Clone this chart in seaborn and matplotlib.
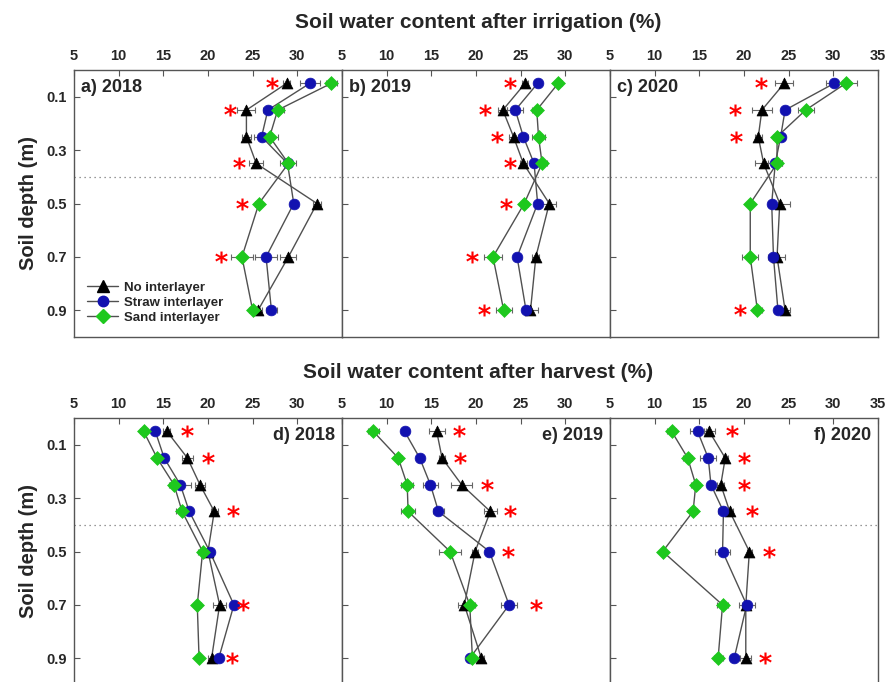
import numpy as np
import pandas as pd
import matplotlib
matplotlib.use("Agg")
import matplotlib.pyplot as plt
import seaborn as sns
from matplotlib.lines import Line2D

# depths (m) and treatments
depth = [0.05, 0.15, 0.25, 0.35, 0.5, 0.7, 0.9]
treatments = ["No interlayer", "Straw interlayer", "Sand interlayer"]

# soil water content after irrigation (%)
irr_2018 = {"No interlayer": [28.8, 24.3, 24.3, 25.4, 32.2, 29.0, 25.6],
            "Straw interlayer": [31.4, 26.7, 26.0, 28.9, 29.6, 26.5, 27.1],
            "Sand interlayer": [33.8, 27.8, 26.9, 29.0, 25.7, 23.8, 25.0]}
irr_2019 = {"No interlayer": [25.5, 23.0, 24.2, 25.3, 28.2, 26.7, 26.1],
            "Straw interlayer": [26.9, 24.4, 25.3, 26.5, 26.9, 24.6, 25.6],
            "Sand interlayer": [29.2, 26.8, 27.0, 27.4, 25.4, 21.9, 23.1]}
irr_2020 = {"No interlayer": [24.5, 22.0, 21.6, 22.2, 24.0, 23.7, 24.6],
            "Straw interlayer": [30.1, 24.6, 24.1, 23.5, 23.1, 23.3, 23.8],
            "Sand interlayer": [31.4, 26.9, 23.7, 23.7, 20.7, 20.7, 21.5]}

# soil water content after harvest (%)
har_2018 = {"No interlayer": [15.4, 17.7, 19.1, 20.7, 20.0, 21.3, 20.4],
            "Straw interlayer": [14.1, 15.1, 16.9, 17.9, 20.2, 22.9, 21.2],
            "Sand interlayer": [12.8, 14.3, 16.2, 17.1, 19.4, 18.8, 19.0]}
har_2019 = {"No interlayer": [15.6, 16.2, 18.4, 21.6, 19.9, 18.7, 20.6],
            "Straw interlayer": [12.0, 13.7, 14.9, 15.8, 21.5, 23.7, 19.3],
            "Sand interlayer": [8.5, 11.3, 12.3, 12.4, 17.1, 19.3, 19.6]}
har_2020 = {"No interlayer": [16.1, 17.9, 17.4, 18.4, 20.6, 20.2, 20.2],
            "Straw interlayer": [14.8, 16.0, 16.3, 17.7, 17.6, 20.3, 18.9],
            "Sand interlayer": [11.9, 13.7, 14.6, 14.3, 10.9, 17.6, 17.1]}

# standard errors
err_irr_2018 = {"No interlayer": [0.4, 1.0, 0.5, 0.8, 0.5, 0.9, 0.5],
                "Straw interlayer": [1.1, 0.5, 0.8, 0.5, 0.3, 1.2, 0.6],
                "Sand interlayer": [0.6, 0.7, 0.9, 0.9, 0.4, 1.2, 0.4]}
err_irr_2019 = {"No interlayer": [0.3, 0.5, 0.5, 0.4, 0.8, 0.4, 0.8],
                "Straw interlayer": [0.3, 0.9, 0.5, 0.5, 0.3, 0.3, 0.4],
                "Sand interlayer": [0.4, 0.5, 0.7, 0.5, 0.4, 1.0, 0.9]}
err_irr_2020 = {"No interlayer": [1.0, 1.1, 0.4, 1.0, 1.2, 0.9, 0.6],
                "Straw interlayer": [0.9, 0.5, 0.5, 0.8, 0.4, 0.6, 0.4],
                "Sand interlayer": [1.3, 0.9, 0.4, 0.5, 0.3, 0.9, 0.5]}
err_har_2018 = {"No interlayer": [0.4, 0.6, 0.6, 0.4, 0.3, 0.7, 0.4],
                "Straw interlayer": [0.3, 0.3, 1.2, 0.3, 0.3, 0.3, 0.5],
                "Sand interlayer": [0.4, 0.4, 0.6, 0.7, 0.5, 0.4, 0.3]}
err_har_2019 = {"No interlayer": [0.9, 0.3, 1.2, 0.7, 0.3, 0.7, 0.3],
                "Straw interlayer": [0.3, 0.3, 0.8, 0.6, 0.3, 0.9, 0.3],
                "Sand interlayer": [0.6, 0.4, 0.7, 0.8, 1.2, 0.6, 0.3]}
err_har_2020 = {"No interlayer": [0.6, 0.3, 0.4, 0.4, 0.3, 0.4, 0.6],
                "Straw interlayer": [0.9, 0.9, 0.4, 0.6, 0.8, 0.9, 0.5],
                "Sand interlayer": [0.5, 0.5, 0.5, 0.4, 0.3, 0.6, 0.5]}

# significance asterisks (x position per depth, nan = none)
nan = np.nan
star_irr_2018 = [27.2, 22.5, nan, 23.5, 23.8, 21.5, nan]
star_irr_2019 = [23.8, 21.0, 22.3, 23.8, 23.4, 19.5, 20.9]
star_irr_2020 = [21.9, 19.0, 19.1, nan, nan, nan, 19.6]
star_har_2018 = [17.7, 20.0, nan, 22.8, nan, 23.9, 22.7]
star_har_2019 = [18.1, 18.2, 21.2, 23.8, 23.6, 26.7, nan]
star_har_2020 = [18.7, 20.0, 20.0, 20.9, 22.8, nan, 22.3]

panels = [
    ("a) 2018", irr_2018, err_irr_2018, star_irr_2018),
    ("b) 2019", irr_2019, err_irr_2019, star_irr_2019),
    ("c) 2020", irr_2020, err_irr_2020, star_irr_2020),
    ("d) 2018", har_2018, err_har_2018, star_har_2018),
    ("e) 2019", har_2019, err_har_2019, star_har_2019),
    ("f) 2020", har_2020, err_har_2020, star_har_2020),
]

colors = {"No interlayer": "black", "Straw interlayer": "#1212b0", "Sand interlayer": "#1ec81e"}
markers = {"No interlayer": "^", "Straw interlayer": "o", "Sand interlayer": "D"}
sizes = {"No interlayer": 62, "Straw interlayer": 60, "Sand interlayer": 50}
legend_ms = {"No interlayer": 8, "Straw interlayer": 7.5, "Sand interlayer": 7}

sns.set_style("ticks")
plt.rcParams["font.family"] = ["Liberation Sans", "DejaVu Sans"]
plt.rcParams["font.weight"] = "bold"

W, H = 889, 682
fig = plt.figure(figsize=(W / 100, H / 100), dpi=100)

lefts = [74, 342, 610]
tops = [70, 418]
pw, ph = 268, 267

for i, (label, vals, errs, stars) in enumerate(panels):
    row, col = divmod(i, 3)
    ax = fig.add_axes([lefts[col] / W, 1 - (tops[row] + ph) / H, pw / W, ph / H])

    df = pd.DataFrame([(t, d, v) for t in treatments for d, v in zip(depth, vals[t])],
                      columns=["treatment", "depth", "swc"])

    ax.axhline(0.4, color="#777777", ls=(0, (1, 3)), lw=0.9, zorder=0)
    for t in treatments:
        ax.errorbar(vals[t], depth, xerr=errs[t], fmt="none", ecolor="#666666",
                    elinewidth=0.8, capsize=2.5, capthick=0.8, zorder=1)
    sns.lineplot(data=df, x="swc", y="depth", units="treatment", estimator=None,
                 orient="y", sort=True, color="#505050", lw=1, ax=ax, legend=False, zorder=2)
    for t in treatments:
        sub = df[df["treatment"] == t]
        sns.scatterplot(data=sub, x="swc", y="depth", marker=markers[t], color=colors[t],
                        s=sizes[t], edgecolor=colors[t], linewidth=0.5, ax=ax,
                        legend=False, zorder=3)
    sns.scatterplot(x=stars, y=depth, marker="$*$", color="red", s=80, linewidth=0,
                    ax=ax, legend=False, zorder=4)

    ax.set_xlim(5, 35)
    ax.set_ylim(1.0, 0.0)
    ax.xaxis.tick_top()
    ax.set_xticks([5, 10, 15, 20, 25, 30, 35])
    xl = ["5", "10", "15", "20", "25", "30", "35" if col == 2 else ""]
    ax.set_xticklabels(xl)
    ax.set_yticks([0.1, 0.3, 0.5, 0.7, 0.9])
    ax.set_yticklabels(["0.1", "0.3", "0.5", "0.7", "0.9"] if col == 0 else [])
    ax.tick_params(direction="in", length=4, width=0.8, color="#555555", labelsize=10.5,
                   top=True, bottom=False, left=True, right=False, pad=5)
    for lab in ax.get_xticklabels() + ax.get_yticklabels():
        lab.set_fontweight("bold")
    ax.set_xlabel("")
    ax.set_ylabel("")
    for sp in ax.spines.values():
        sp.set_visible(True)
        sp.set_color("#555555")
        sp.set_linewidth(1)

    if row == 0:
        ax.text(0.025, 0.935, label, transform=ax.transAxes, fontsize=13,
                fontweight="bold", ha="left", va="center")
    else:
        ax.text(0.975, 0.936, label, transform=ax.transAxes, fontsize=13,
                fontweight="bold", ha="right", va="center")

    if i == 0:
        handles = [Line2D([], [], color="#505050", lw=1, marker=markers[t],
                          markersize=legend_ms[t], markerfacecolor=colors[t],
                          markeredgecolor=colors[t]) for t in treatments]
        ax.legend(handles, treatments, loc="lower left", bbox_to_anchor=(0.05, 0.05),
                  frameon=False, handlelength=2.3, handletextpad=0.5,
                  labelspacing=0.2, borderaxespad=0, borderpad=0,
                  prop={"weight": "bold", "size": 9.5})

    if col == 0:
        fig.text(28 / W, 1 - (tops[row] + ph / 2) / H, "Soil depth (m)", rotation=90,
                 fontsize=14.5, fontweight="bold", ha="center", va="center")

fig.text(478 / W, 1 - 22 / H, "Soil water content after irrigation (%)",
         fontsize=15, fontweight="bold", ha="center", va="center")
fig.text(478 / W, 1 - 373 / H, "Soil water content after harvest (%)",
         fontsize=15, fontweight="bold", ha="center", va="center")

fig.savefig("out.png", dpi=100)
